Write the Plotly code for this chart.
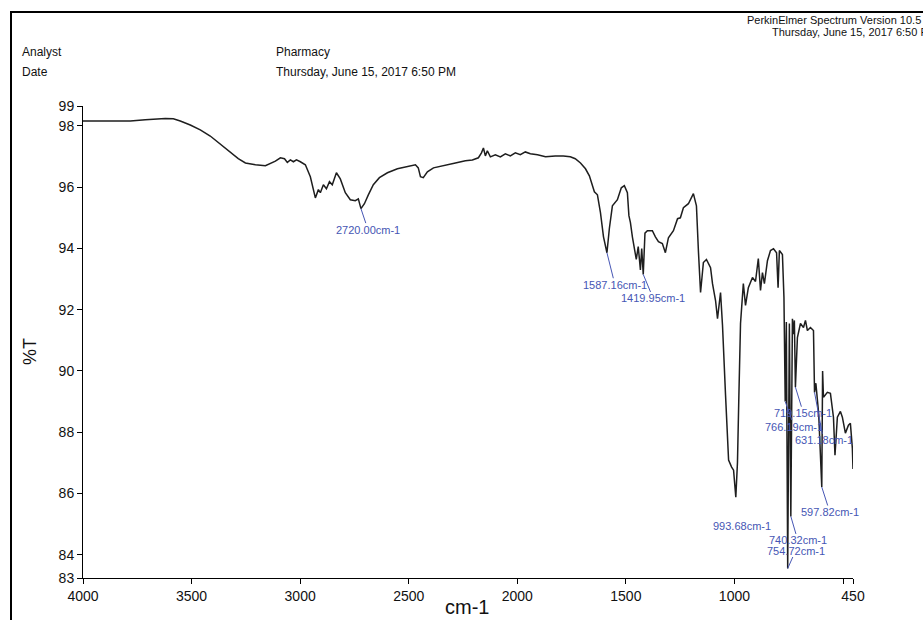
import plotly.graph_objects as go

# FT-IR spectrum, transmittance (%T) against wavenumber (cm-1)
wavenumber = [
    4000, 3874, 3782, 3713, 3667, 3621, 3584, 3552, 3506, 3460, 3414, 3368, 3322,
    3285, 3252, 3206, 3160, 3146, 3114, 3091, 3072, 3059, 3045, 3031, 3017, 2999,
    2976, 2953, 2930, 2916, 2907, 2893, 2879, 2865, 2852, 2833, 2815, 2792, 2769,
    2746, 2732, 2704, 2686, 2663, 2635, 2598, 2552, 2506, 2469, 2456, 2446, 2433,
    2414, 2386, 2331, 2285, 2239, 2207, 2179, 2165, 2156, 2147, 2138, 2124, 2101,
    2078, 2055, 2032, 2009, 1986, 1963, 1940, 1907, 1870, 1825, 1788, 1756, 1733,
    1709, 1686, 1668, 1654, 1645, 1631, 1617, 1603, 1576, 1562, 1539, 1521, 1507,
    1493, 1486, 1479, 1470, 1461, 1452, 1443, 1433, 1427, 1412, 1401, 1396, 1378,
    1364, 1350, 1332, 1318, 1304, 1281, 1262, 1249, 1235, 1212, 1189, 1175, 1166,
    1156, 1143, 1129, 1110, 1101, 1087, 1078, 1064, 1055, 1041, 1027, 1013, 1004,
    986, 980, 972, 959, 949, 936, 917, 903, 890, 880, 871, 862, 848, 834, 820,
    806, 799, 793, 779, 772, 761, 747, 733, 728, 724, 710, 696, 682, 673, 664,
    650, 636, 625, 612, 594, 590, 572, 558, 544, 537, 526, 512, 503, 489, 475,
    466, 457, 454,
]
transmittance = [
    98.16, 98.15, 98.16, 98.20, 98.23, 98.24, 98.23, 98.16, 98.03, 97.87, 97.67, 97.41, 97.15,
    96.93, 96.79, 96.73, 96.70, 96.75, 96.85, 96.96, 96.93, 96.81, 96.89, 96.83, 96.89, 96.83,
    96.73, 96.34, 95.65, 95.92, 95.82, 96.08, 95.95, 96.18, 96.08, 96.47, 96.27, 95.82, 95.59,
    95.56, 95.62, 95.46, 95.75, 96.08, 96.31, 96.47, 96.60, 96.66, 96.73, 96.63, 96.34, 96.31,
    96.50, 96.63, 96.73, 96.79, 96.86, 96.89, 96.96, 97.12, 97.28, 97.02, 97.19, 96.99, 97.06,
    96.99, 97.09, 97.02, 97.12, 97.06, 97.15, 97.09, 97.06, 96.99, 97.02, 97.02, 96.99, 96.93,
    96.79, 96.60, 96.37, 96.08, 95.85, 95.75, 95.17, 94.38, 94.65, 95.39, 95.59, 95.98, 96.05,
    95.82, 95.07, 94.84, 94.38, 94.06, 93.64, 94.06, 93.30, 94.00, 94.50, 94.58, 94.58, 94.58,
    94.38, 94.22, 94.16, 93.86, 94.35, 94.58, 94.97, 95.00, 95.33, 95.46, 95.79, 95.39, 93.93,
    92.56, 93.54, 93.64, 93.37, 92.85, 92.30, 91.71, 92.56, 91.49, 89.21, 87.09, 86.86, 86.76,
    87.02, 89.04, 91.55, 92.85, 92.14, 92.72, 93.05, 92.92, 93.67, 92.63, 93.21, 92.85, 93.60,
    93.93, 93.99, 93.86, 92.72, 93.93, 93.80, 92.40, 91.60, 91.55, 91.70, 91.20, 91.65, 91.09,
    91.55, 91.42, 91.65, 91.32, 91.42, 91.32, 89.60, 88.60, 90.00, 89.14, 89.30, 89.27, 88.49,
    87.25, 88.49, 88.68, 88.49, 87.97, 88.23, 88.29, 87.48, 86.80,
]

# Labelled absorption minima
peak_wavenumber = [2720.00, 1587.16, 1419.95, 993.68, 766.19, 754.72, 740.32, 719.15, 631.18, 597.82]
peak_transmittance = [95.30, 93.86, 93.15, 85.88, 89.00, 83.55, 85.25, 89.47, 89.30, 86.21]
# label offsets in pixels (x, y) from each minimum
peak_offsets = [(7, 21), (8, 32), (10, 24), (6, 29), (9, 25), (8, -18), (7, 24), (8, 26), (9, 48), (8, 25)]

y_ticks = [84, 86, 88, 90, 92, 94, 96, 98]
x_ticks = [4000, 3500, 3000, 2500, 2000, 1500, 1000, 500]
x_range = [4000, 454]
y_range = [83.24, 98.65]

# merge the labelled minima into the trace
points = sorted(zip(wavenumber + peak_wavenumber, transmittance + peak_transmittance),
                key=lambda p: -p[0])
wn_all = [p[0] for p in points]
t_all = [p[1] for p in points]

W, H = 923, 620
PL, PT, PR, PB = 83, 106, 70, 42
PW, PH = W - PL - PR, H - PT - PB


def px(x):
    return (x - PL) / PW


def py(y):
    return (PT + PH - y) / PH


FONT = "Liberation Sans, Arial, sans-serif"
BLUE = "#4656b4"

fig = go.Figure()
fig.add_trace(go.Scatter(
    x=wn_all, y=t_all, mode="lines",
    line=dict(color="#1e1e1e", width=1.5),
    hoverinfo="x+y", showlegend=False,
))

annotations = []
for wn, t, (dx, dy) in zip(peak_wavenumber, peak_transmittance, peak_offsets):
    annotations.append(dict(
        x=wn, y=t, xref="x", yref="y",
        text=f"{wn:.2f}cm-1", showarrow=True, arrowhead=0, arrowwidth=1,
        arrowcolor=BLUE, ax=dx, ay=dy, standoff=0,
        font=dict(family=FONT, size=11, color=BLUE),
        borderpad=0,
    ))

# header block
header = [
    ("PerkinElmer Spectrum Version 10.5", 923, 20, "right", 11),
    ("Thursday, June 15, 2017 6:50 PM", 939, 32, "right", 11),
    ("Analyst", 20, 52, "left", 12),
    ("Date", 20, 72, "left", 12),
    ("Pharmacy", 274, 52, "left", 12),
    ("Thursday, June 15, 2017 6:50 PM", 274, 72, "left", 12),
]
for text, x, y, anchor, size in header:
    annotations.append(dict(
        x=px(x), y=py(y), xref="paper", yref="paper", text=text, showarrow=False,
        xanchor=anchor, yanchor="middle",
        font=dict(family=FONT, size=size, color="#111"),
    ))

annotations.append(dict(
    x=px(467), y=py(607), xref="paper", yref="paper", text="cm-1", showarrow=False,
    xanchor="center", yanchor="middle", font=dict(family=FONT, size=20, color="#111"),
))
annotations.append(dict(
    x=px(30), y=py(352), xref="paper", yref="paper", text="%T", showarrow=False,
    textangle=-90, xanchor="center", yanchor="middle",
    font=dict(family=FONT, size=18, color="#111"),
))

shapes = [
    dict(type="line", xref="paper", yref="paper", x0=px(11), x1=px(930), y0=py(12), y1=py(12),
         line=dict(color="black", width=2)),
    dict(type="line", xref="paper", yref="paper", x0=px(11), x1=px(11), y0=py(11), y1=py(630),
         line=dict(color="black", width=2)),
]

axis_font = dict(family=FONT, size=14, color="#111")
fig.update_layout(
    width=W, height=H,
    margin=dict(l=PL, r=PR, t=PT, b=PB),
    paper_bgcolor="white", plot_bgcolor="white",
    annotations=annotations, shapes=shapes,
    xaxis=dict(
        range=x_range, tickvals=x_ticks + [x_range[1]],
        ticktext=[str(v) for v in x_ticks[:-1]] + ["", "450"],
        showline=True, linecolor="black", linewidth=1, ticks="outside", ticklen=5,
        tickcolor="black", showgrid=False, zeroline=False, tickfont=axis_font,
    ),
    yaxis=dict(
        range=y_range, tickvals=[y_range[0]] + y_ticks + [y_range[1]],
        ticktext=["83"] + [str(v) for v in y_ticks] + ["99"],
        showline=True, linecolor="black", linewidth=1, ticks="outside", ticklen=5,
        tickcolor="black", showgrid=False, zeroline=False, tickfont=axis_font,
    ),
)

fig.write_html("out.html")
